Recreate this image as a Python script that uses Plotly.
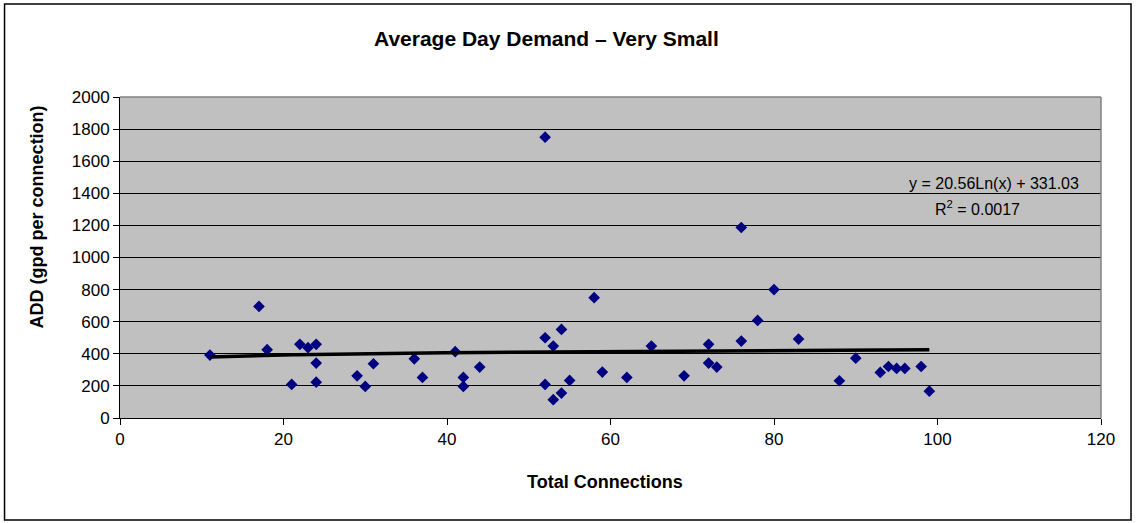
import numpy as np
import plotly.graph_objects as go

# Total connections per system and average day demand (gpd per connection)
connections = [11, 17, 18, 21, 22, 23, 24, 24, 24, 29, 30, 31, 36, 37, 41, 42, 42, 44,
               52, 52, 52, 53, 53, 54, 54, 55, 58, 59, 62, 65, 69, 72, 72, 73, 76, 76,
               78, 80, 83, 88, 90, 93, 94, 95, 96, 98, 99]
add_gpd = [392, 695, 426, 209, 459, 438, 459, 342, 223, 263, 197, 338, 369, 253, 413, 253,
           197, 317, 1750, 500, 209, 448, 114, 552, 155, 234, 750, 286, 253, 448, 263, 459,
           342, 317, 1187, 479, 608, 800, 492, 232, 373, 284, 321, 309, 309, 321, 167]

# Logarithmic trend: y = a*ln(x) + b
trend_a = 20.56
trend_b = 331.03
trend_r2 = 0.0017

x_ticks = [0, 20, 40, 60, 80, 100, 120]
y_ticks = [0, 200, 400, 600, 800, 1000, 1200, 1400, 1600, 1800, 2000]

FONT = "Liberation Sans, Arial, sans-serif"

trend_x = np.linspace(min(connections), max(connections), 200)
trend_y = trend_a * np.log(trend_x) + trend_b

fig = go.Figure()
fig.add_trace(go.Scatter(
    x=connections, y=add_gpd, mode="markers",
    marker=dict(symbol="diamond", size=9, color="#000080"),
    hoverinfo="x+y", showlegend=False,
))
fig.add_trace(go.Scatter(
    x=trend_x, y=trend_y, mode="lines",
    line=dict(color="black", width=3.5),
    hoverinfo="skip", showlegend=False,
))

axis_common = dict(
    zeroline=False, showline=True, linecolor="black", linewidth=1,
    ticks="outside", ticklen=6, tickcolor="black", tickwidth=1,
    tickfont=dict(family=FONT, size=17, color="black"),
)
fig.update_xaxes(range=[0, 120], tickvals=x_ticks, showgrid=False, **axis_common)
fig.update_yaxes(range=[0, 2000], tickvals=y_ticks, showgrid=True,
                 gridcolor="black", gridwidth=1, **axis_common)

shapes = [
    # top and right edges of the plot area
    dict(type="line", xref="paper", yref="paper", x0=0, x1=1, y0=1, y1=1,
         line=dict(color="#808080", width=1.5)),
    dict(type="line", xref="paper", yref="paper", x0=1, x1=1, y0=0, y1=1,
         line=dict(color="#808080", width=1.5)),
    # chart frame
    dict(type="rect", xref="paper", yref="paper", x0=-0.1177, x1=1.0306, y0=-0.3178, y1=1.2897,
         line=dict(color="black", width=1.5), fillcolor="rgba(0,0,0,0)"),
]

annotations = [
    dict(text="<b>Average Day Demand – Very Small</b>", xref="paper", yref="paper",
         x=0.4343, y=1.1838, xanchor="center", yanchor="middle", showarrow=False,
         font=dict(family=FONT, size=21, color="black")),
    dict(text="<b>Total Connections</b>", xref="paper", yref="paper",
         x=0.4944, y=-0.1994, xanchor="center", yanchor="middle", showarrow=False,
         font=dict(family=FONT, size=18, color="black")),
    dict(text="<b>ADD (gpd per connection)</b>", xref="paper", yref="paper",
         x=-0.0846, y=0.625, xanchor="center", yanchor="middle", showarrow=False,
         textangle=-90, font=dict(family=FONT, size=18, color="black")),
    dict(text=f"y = {trend_a:.2f}Ln(x) + {trend_b:.2f}", xref="paper", yref="paper",
         x=0.891, y=0.732, xanchor="center", yanchor="middle", showarrow=False,
         font=dict(family=FONT, size=16, color="black")),
    dict(text=f"R<sup>2</sup> = {trend_r2:.4f}", xref="paper", yref="paper",
         x=0.8746, y=0.654, xanchor="center", yanchor="middle", showarrow=False,
         font=dict(family=FONT, size=16, color="black")),
]

fig.update_layout(
    width=1136, height=523,
    margin=dict(l=120, r=35, t=97, b=105),
    paper_bgcolor="white", plot_bgcolor="#C0C0C0",
    shapes=shapes, annotations=annotations,
    font=dict(family=FONT, color="black"),
)

fig.write_html("out.html")
